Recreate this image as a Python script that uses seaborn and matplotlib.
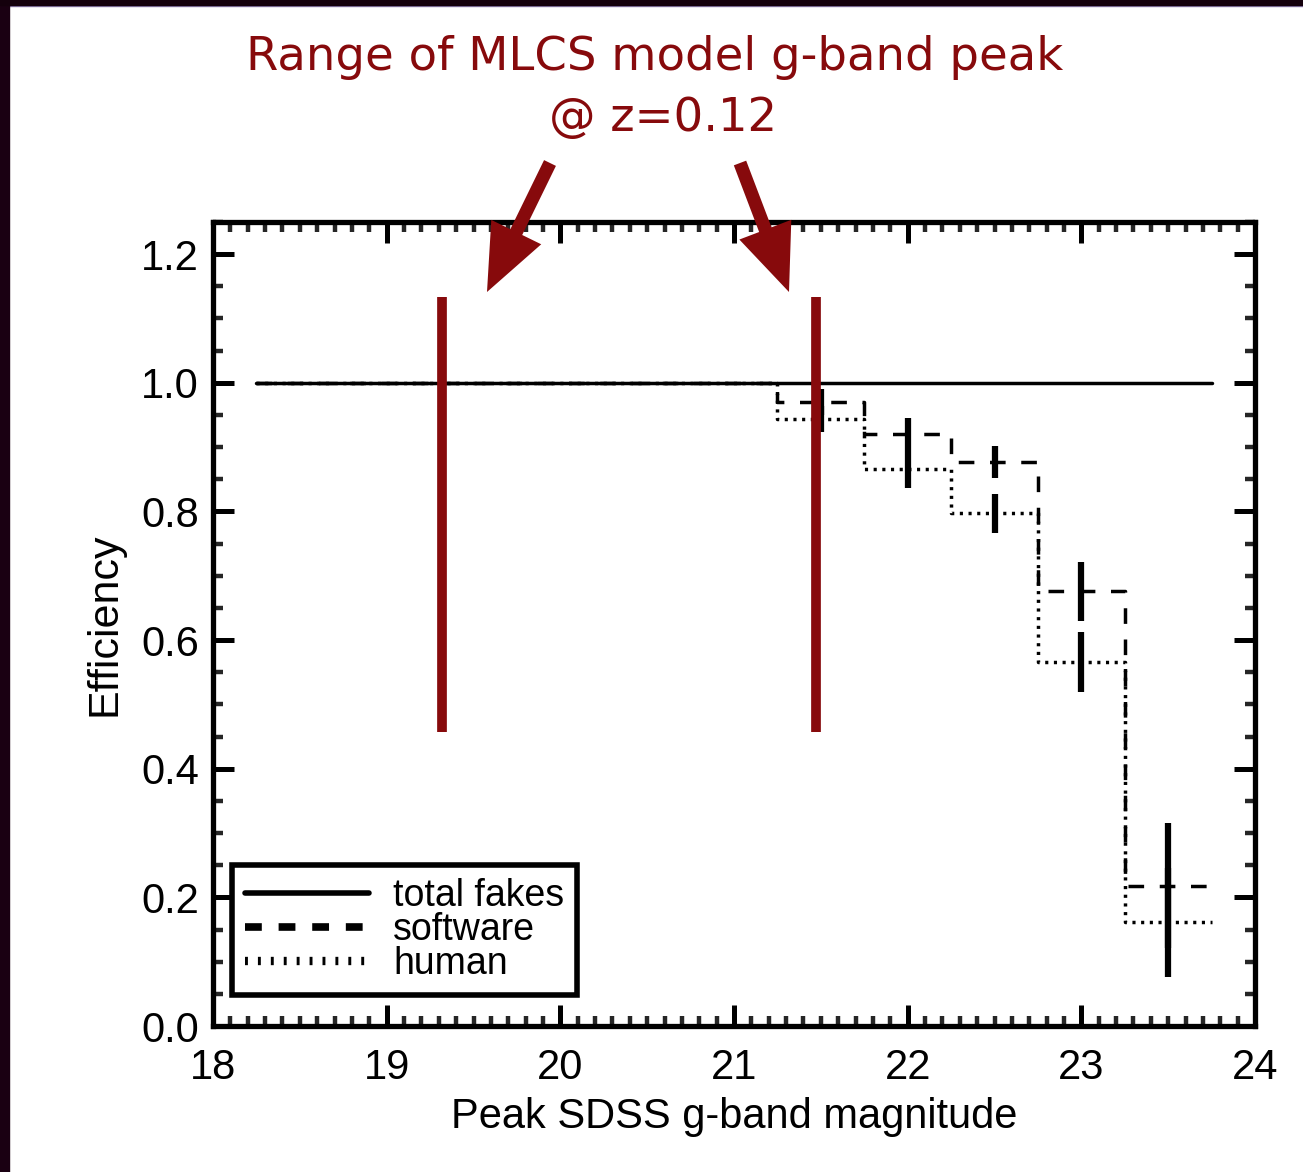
import matplotlib
matplotlib.use("Agg")
import matplotlib.pyplot as plt
from matplotlib.lines import Line2D
from matplotlib.patches import Rectangle
from matplotlib.ticker import MultipleLocator
import numpy as np
import pandas as pd
import seaborn as sns

# ---------------- data ----------------
bin_edges = [18.25, 18.75, 19.25, 19.75, 20.25, 20.75, 21.25, 21.75, 22.25, 22.75, 23.25, 23.75]
total_fakes = [1.0, 1.0, 1.0, 1.0, 1.0, 1.0, 1.0, 1.0, 1.0, 1.0, 1.0]
software = [1.0, 1.0, 1.0, 1.0, 1.0, 1.0, 0.970, 0.920, 0.877, 0.676, 0.218]
human = [1.0, 1.0, 1.0, 1.0, 1.0, 1.0, 0.944, 0.866, 0.797, 0.566, 0.161]
err_x = [21.5, 22.0, 22.5, 23.0, 23.5]
software_err_y = [0.970, 0.920, 0.877, 0.676, 0.218]
software_err = [0.020, 0.025, 0.025, 0.046, 0.097]
human_err_y = [0.944, 0.866, 0.797, 0.566, 0.161]
human_err = [0.020, 0.030, 0.030, 0.047, 0.085]
mlcs_range = [19.32, 21.47]
mlcs_ymin, mlcs_ymax = 0.457, 1.134
legend_labels = ["total fakes", "software", "human"]
title_lines = ["Range of MLCS model g-band peak", "@ z=0.12"]
xlabel = "Peak SDSS g-band magnitude"
ylabel = "Efficiency"

RED = "#870a0c"

sns.set_theme(style="white")
plt.rcParams["font.family"] = ["Liberation Sans", "DejaVu Sans"]
plt.rcParams["text.color"] = "black"

W, H = 1303, 1172
fig = plt.figure(figsize=(W / 100, H / 100), dpi=100)
fig.patch.set_facecolor("white")
ax = fig.add_axes([213 / W, 1 - 1026 / H, (1255 - 213) / W, (1026 - 222) / H])
ax.set_facecolor("white")


def step_frame(edges, vals, name):
    return pd.DataFrame({"x": edges, "y": list(vals) + [vals[-1]], "series": name})


df_sw = step_frame(bin_edges, software, "software")
df_hu = step_frame(bin_edges, human, "human")
df_tot = step_frame(bin_edges, total_fakes, "total fakes")

lw = 2.5
sns.lineplot(data=df_hu, x="x", y="y", ax=ax, color="black", lw=lw, sort=False,
             drawstyle="steps-post", dashes=False, estimator=None, legend=False,
             linestyle=(0, (0.9, 1.6)))
sns.lineplot(data=df_sw, x="x", y="y", ax=ax, color="black", lw=lw, sort=False,
             drawstyle="steps-post", estimator=None, legend=False,
             linestyle=(0, (4.5, 4.5)))
sns.lineplot(data=df_tot, x="x", y="y", ax=ax, color="black", lw=lw, sort=False,
             drawstyle="steps-post", estimator=None, legend=False)

ax.errorbar(err_x, software_err_y, yerr=software_err, fmt="none", ecolor="black",
            elinewidth=4.5, capsize=0)
ax.errorbar(err_x, human_err_y, yerr=human_err, fmt="none", ecolor="black",
            elinewidth=4.5, capsize=0)

ax.vlines(mlcs_range, mlcs_ymin, mlcs_ymax, color=RED, lw=7, zorder=5)

ax.set_xlim(18, 24)
ax.set_ylim(0, 1.25)
ax.xaxis.set_major_locator(MultipleLocator(1))
ax.xaxis.set_minor_locator(MultipleLocator(0.1))
ax.yaxis.set_major_locator(MultipleLocator(0.2))
ax.yaxis.set_minor_locator(MultipleLocator(0.05))
ax.xaxis.set_major_formatter(matplotlib.ticker.FormatStrFormatter("%d"))
ax.yaxis.set_major_formatter(matplotlib.ticker.FormatStrFormatter("%.1f"))

for s in ax.spines.values():
    s.set_visible(True)
    s.set_linewidth(3.8)
    s.set_color("black")

ax.tick_params(which="major", direction="in", length=15, width=3.6, top=True, right=True,
               bottom=True, left=True, labelsize=30, colors="black")
ax.tick_params(which="minor", direction="in", length=7, width=3.2, top=True, right=True,
               bottom=True, left=True)
ax.tick_params(axis="x", which="major", pad=16)
ax.tick_params(axis="y", which="major", pad=10)

ax.set_xlabel(xlabel, fontsize=30, labelpad=6, color="black")
ax.set_ylabel(ylabel, fontsize=31, labelpad=12, color="black")

handles = [
    Line2D([], [], color="black", lw=4),
    Line2D([], [], color="black", lw=5.5, linestyle=(0, (2.2, 2.2))),
    Line2D([], [], color="black", lw=6, linestyle=(0, (0.35, 1.2))),
]
leg = ax.legend(handles, legend_labels, loc="lower left", bbox_to_anchor=(0.018, 0.038),
                fontsize=27, frameon=True, fancybox=False, handlelength=3.3,
                labelspacing=-0.05, borderpad=0.35, handletextpad=0.65,
                borderaxespad=0.0, labelcolor="black")
frame = leg.get_frame()
frame.set_edgecolor("black")
frame.set_linewidth(4)
frame.set_facecolor("white")
frame.set_alpha(1)

# title and arrows
fig.text(655 / W, 1 - 70 / H, title_lines[0], ha="center", va="baseline",
         fontsize=33.5, color=RED, family=["DejaVu Sans"])
fig.text(663 / W, 1 - 131 / H, title_lines[1], ha="center", va="baseline",
         fontsize=33.5, color=RED, family=["DejaVu Sans"])

for (tx, ty), (hx, hy) in [((550, 163), (487, 292)), ((740, 163), (789, 292))]:
    ax.annotate("", xy=(hx / W, 1 - hy / H), xycoords="figure fraction",
                xytext=(tx / W, 1 - ty / H), textcoords="figure fraction",
                arrowprops=dict(width=9.5, headwidth=40, headlength=48, shrink=0,
                                color=RED, lw=0),
                annotation_clip=False, zorder=10)

# slide border
fig.patches.append(Rectangle((0, 0), 9 / W, 1, transform=fig.transFigure,
                             color="#1a0012", zorder=20))
fig.patches.append(Rectangle((0, 1 - 5 / H), 1, 5 / H, transform=fig.transFigure,
                             color="#14000c", zorder=20))
fig.patches.append(Rectangle((0, 1 - 6 / H), 1, 1.2 / H, transform=fig.transFigure,
                             color="#8f7fb0", zorder=19))

fig.savefig("out.png", dpi=100, facecolor="white")
